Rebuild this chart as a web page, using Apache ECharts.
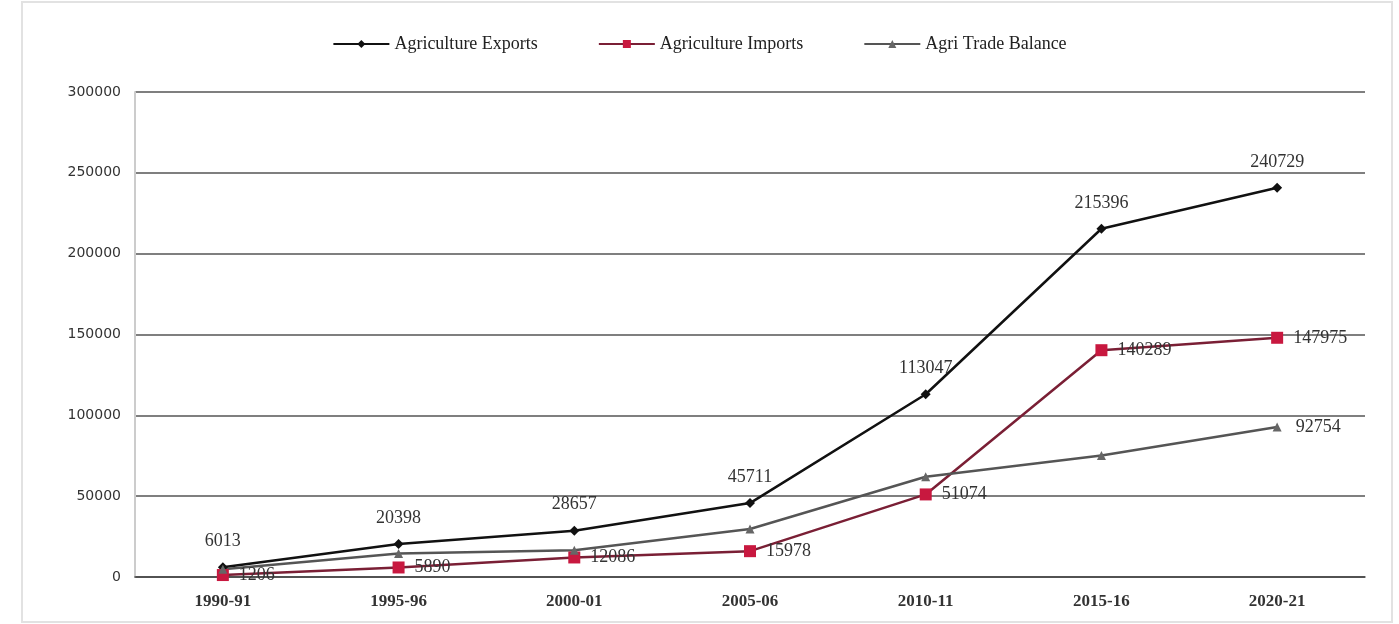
<!DOCTYPE html>
<html>
<head>
<meta charset="utf-8">
<script src="https://cdn.jsdelivr.net/npm/echarts@6/dist/echarts.min.js"></script>
<style>
html,body{margin:0;padding:0;background:#fff;}
#chart{width:1399px;height:624px;}
</style>
</head>
<body>
<div id="chart"></div>
<script>
const categories = ['1990-91','1995-96','2000-01','2005-06','2010-11','2015-16','2020-21'];
const exportsData = [6013, 20398, 28657, 45711, 113047, 215396, 240729];
const importsData = [1206, 5890, 12086, 15978, 51074, 140289, 147975];
const balanceData = [4807, 14508, 16571, 29733, 61973, 75107, 92754];
const yTicks = [0, 50000, 100000, 150000, 200000, 250000, 300000];

const chart = echarts.init(document.getElementById('chart'));
const font = 'Liberation Serif';
chart.setOption({
  backgroundColor: '#ffffff',
  animation: false,
  textStyle: {fontFamily: font},
  graphic: [{
    type: 'rect', shape: {x: 22, y: 2, width: 1370, height: 620},
    style: {fill: 'none', stroke: '#e2e2e2', lineWidth: 2}, silent: true
  }],
  legend: {
    top: 30, left: 'center', itemGap: 60, itemWidth: 56, itemHeight: 10,
    textStyle: {fontFamily: font, fontSize: 18, color: '#222'},
    data: ['Agriculture Exports','Agriculture Imports','Agri Trade Balance']
  },
  grid: {left: 135, right: 34, top: 92, bottom: 47},
  xAxis: {
    type: 'category', data: categories, boundaryGap: true,
    axisLine: {lineStyle: {color: '#444', width: 1.5}},
    axisTick: {show: false},
    axisLabel: {fontFamily: font, fontSize: 17, fontWeight: 'bold', color: '#333', margin: 16}
  },
  yAxis: {
    type: 'value', min: yTicks[0], max: yTicks[yTicks.length-1], interval: 50000,
    axisLine: {show: true, lineStyle: {color: '#ccc', width: 2}},
    axisTick: {show: false},
    axisLabel: {fontFamily: 'DejaVu Sans', fontSize: 14, color: '#333', margin: 14,
      formatter: v => String(v)},
    splitLine: {lineStyle: {color: '#555', width: 1.5}}
  },
  series: [
    {
      name: 'Agriculture Exports', type: 'line', data: exportsData,
      symbol: 'diamond', symbolSize: 10,
      itemStyle: {color: '#111'}, lineStyle: {color: '#111', width: 2.5},
      label: {show: true, position: 'top', distance: 12, fontFamily: font, fontSize: 18, color: '#333'}
    },
    {
      name: 'Agriculture Imports', type: 'line', data: importsData,
      symbol: 'rect', symbolSize: 12,
      itemStyle: {color: '#c8183f'}, lineStyle: {color: '#7a1f35', width: 2.5},
      label: {show: true, position: 'right', distance: 10, fontFamily: font, fontSize: 18, color: '#333'}
    },
    {
      name: 'Agri Trade Balance', type: 'line', data: balanceData,
      symbol: 'triangle', symbolSize: 9,
      itemStyle: {color: '#666'}, lineStyle: {color: '#555', width: 2.5},
      label: {
        show: true, position: 'right', distance: 14, fontFamily: font, fontSize: 18, color: '#333',
        formatter: p => p.dataIndex === balanceData.length - 1 ? String(p.value) : ''
      }
    }
  ]
});
</script>
</body>
</html>
